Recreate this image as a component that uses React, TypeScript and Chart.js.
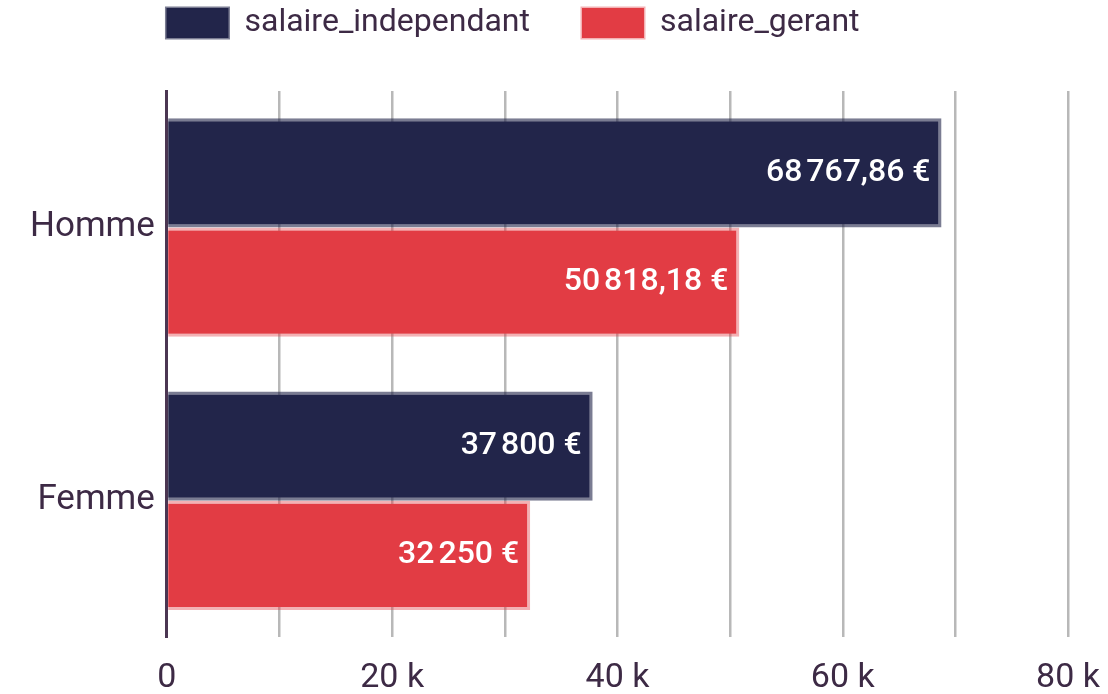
import React, { useEffect, useRef } from "react";
import { Chart, registerables } from "chart.js";

Chart.register(...registerables);

const categories = ["Homme", "Femme"];
const seriesNames = ["salaire_independant", "salaire_gerant"];
const salaireIndependant = [68767.86, 37800];
const salaireGerant = [50818.18, 32250];
const xMin = 0;
const xMax = 80000;
const xStep = 10000;
const xLabelStep = 20000;

const NAVY = "rgb(34,37,74)";
const NAVY_BORDER = "rgba(34,37,74,0.6)";
const RED = "rgb(226,60,68)";
const RED_BORDER = "rgba(226,60,68,0.4)";
const TEXT = "#3d2a45";

function fmtEuro(v: number): string {
  const [i, d] = v.toFixed(2).split(".");
  const int = i.replace(/\B(?=(\d{3})+(?!\d))/g, "\u202F");
  return (d === "00" ? int : int + "," + d) + "\u00A0€";
}

const valueLabels = {
  id: "valueLabels",
  afterDatasetsDraw(chart: any) {
    const ctx = chart.ctx;
    ctx.save();
    ctx.fillStyle = "#ffffff";
    ctx.font = "500 32px Roboto";
    ctx.textAlign = "right";
    ctx.textBaseline = "middle";
    chart.data.datasets.forEach((ds: any, di: number) => {
      const meta = chart.getDatasetMeta(di);
      meta.data.forEach((bar: any, i: number) => {
        ctx.fillText(fmtEuro(ds.data[i]), bar.x - 11, bar.y);
      });
    });
    ctx.restore();
  },
};

const legendTweak = {
  id: "legendTweak",
  beforeInit(chart: any) {
    const orig = chart.legend.fit;
    chart.legend.fit = function () {
      orig.call(this);
      this.height += 42;
    };
  },
  afterLayout(chart: any) {
    chart.legend.left -= 46;
    chart.legend.right -= 46;
  },
};

export default function App() {
  const ref = useRef<HTMLCanvasElement | null>(null);
  useEffect(() => {
    if (!ref.current) return;
    const chart = new Chart(ref.current, {
      type: "bar",
      data: {
        labels: categories,
        datasets: [
          {
            label: seriesNames[0],
            data: salaireIndependant,
            backgroundColor: NAVY,
            borderColor: NAVY_BORDER,
            borderWidth: 3,
            categoryPercentage: 0.8,
            barPercentage: 1,
          },
          {
            label: seriesNames[1],
            data: salaireGerant,
            backgroundColor: RED,
            borderColor: RED_BORDER,
            borderWidth: 3,
            categoryPercentage: 0.8,
            barPercentage: 1,
          },
        ],
      },
      options: {
        indexAxis: "y",
        animation: false,
        responsive: true,
        maintainAspectRatio: false,
        layout: { padding: { left: 10, right: 0, top: 0, bottom: 0 } },
        plugins: {
          legend: {
            position: "top",
            labels: {
              boxWidth: 62,
              boxHeight: 30,
              padding: 52,
              color: TEXT,
              font: { family: "Roboto", size: 32 },
            },
          },
          tooltip: { enabled: false },
        },
        scales: {
          x: {
            min: xMin,
            max: xMax,
            border: { display: false },
            grid: {
              drawTicks: false,
              lineWidth: 2.5,
              color: (c: any) => (c.tick && c.tick.value === 0 ? "rgba(0,0,0,0)" : "#b8b8b8"),
            },
            ticks: {
              stepSize: xStep,
              padding: 21,
              color: TEXT,
              font: { family: "Roboto", size: 34 },
              maxRotation: 0,
              autoSkip: false,
              callback: (v: any) => {
                const n = Number(v);
                if (n % xLabelStep !== 0) return "";
                return n === 0 ? "0" : n / 1000 + " k";
              },
            },
            afterFit: (scale: any) => {
              scale.paddingRight = Math.max(scale.paddingRight - 21, 0);
              scale.height -= 26;
            },
          },
          y: {
            border: { display: true, color: "#4b3652", width: 3 },
            grid: { display: false, drawTicks: false },
            ticks: {
              padding: 12,
              color: TEXT,
              font: { family: "Roboto", size: 35 },
            },
          },
        },
      },
      plugins: [valueLabels, legendTweak],
    });
    return () => chart.destroy();
  }, []);

  return (
    <div style={{ position: "absolute", left: 8, top: -45, width: 1092, height: 739 }}>
      <canvas ref={ref} />
    </div>
  );
}
